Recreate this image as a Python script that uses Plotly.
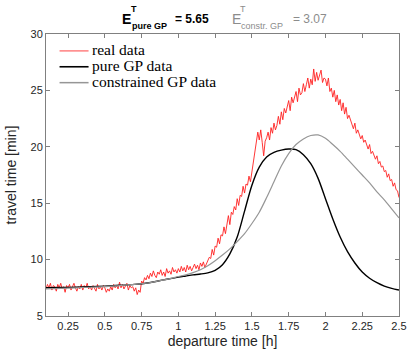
import plotly.graph_objects as go

# ---- data ----
real_x = [round(0.10 + 0.01 * i, 2) for i in range(241)]
real_y = [
    7.4, 7.8, 7.5, 7.9, 7.3, 7.7, 7.6, 7.2, 7.8, 7.5,
    7.9, 7.4, 7.6, 7.1, 7.7, 7.5, 7.8, 7.3, 7.6, 7.9,
    7.5, 7.2, 7.6, 7.4, 7.8, 7.3, 7.7, 7.5, 7.9, 7.4,
    7.6, 7.3, 7.7, 7.5, 7.2, 7.8, 7.4, 7.6, 7.3, 7.7,
    7.5, 7.1, 7.4, 7.2, 7.6, 7.3, 7.8, 7.5, 7.7, 7.4,
    8.0, 7.5, 7.8, 7.4, 7.6, 7.9, 7.3, 7.7, 7.5, 7.6,
    7.2, 7.5, 6.9, 7.3, 7.1, 8.1, 7.9, 8.4, 8.2, 8.6,
    8.3, 8.8, 8.5, 9.0, 8.6, 8.4, 8.9, 8.7, 9.1, 8.6,
    8.9, 8.5, 9.2, 8.8, 9.0, 8.7, 9.3, 8.9, 9.1, 8.8,
    9.2, 8.9, 9.4, 9.0, 9.3, 8.9, 9.5, 9.1, 9.4, 9.0,
    9.3, 9.6, 9.2, 9.5, 9.1, 9.7, 9.4, 9.8, 9.3, 9.6,
    9.8, 10.2, 10.1, 10.9, 10.4, 11.2, 11.1, 11.9, 11.4, 12.2,
    12.1, 12.9, 12.3, 13.2, 13.9, 13.1, 14.2, 14.0, 14.7, 14.4,
    15.4, 14.8, 15.7, 15.6, 16.5, 15.9, 16.7, 16.6, 17.4, 16.9,
    17.8, 18.6, 19.4, 20.3, 21.3, 20.6, 21.5, 20.4, 19.2, 20.5,
    20.8, 21.3, 20.6, 21.7, 21.2, 22.1, 21.5, 21.9, 22.7, 22.0,
    23.1, 22.4, 23.4, 23.0, 23.6, 24.1, 23.2, 24.4, 23.9, 24.3,
    24.9, 24.0, 25.2, 24.6, 24.8, 25.6, 24.9, 25.5, 26.1, 25.2,
    26.0, 25.5, 26.9, 25.8, 26.6, 25.9, 26.4, 26.8, 25.7, 26.1,
    26.0, 25.4, 26.1, 24.9, 25.2, 24.4, 25.0, 24.0, 24.6, 23.7,
    24.2, 23.2, 23.9, 22.9, 23.5, 22.5, 22.8, 22.4, 22.0, 21.6,
    22.1, 21.2, 21.5, 21.1, 20.7, 21.0, 20.4, 20.6, 20.1, 19.8,
    20.2, 19.4, 19.6, 19.3, 18.9, 19.2, 18.5, 18.7, 18.2, 18.3,
    17.8, 17.9, 17.3, 17.6, 17.0, 17.1, 16.5, 16.8, 16.2, 16.1,
    15.5,
]

pure_x = [0.1, 0.2, 0.3, 0.4, 0.5, 0.6, 0.7, 0.8, 0.9, 1.0,
          1.05, 1.1, 1.15, 1.2, 1.25, 1.3, 1.35, 1.4, 1.45, 1.5,
          1.55, 1.6, 1.65, 1.7, 1.75, 1.8, 1.85, 1.9, 1.95, 2.0,
          2.05, 2.1, 2.15, 2.2, 2.25, 2.3, 2.35, 2.4, 2.45, 2.5]
pure_y = [7.5, 7.52, 7.55, 7.6, 7.65, 7.72, 7.8, 7.95, 8.2, 8.45,
          8.55, 8.65, 8.72, 8.82, 9.05, 9.55, 10.5, 12.0, 14.3, 16.6,
          18.2, 19.1, 19.5, 19.7, 19.8, 19.75, 19.3, 18.5, 17.2, 15.4,
          13.6, 12.0, 10.7, 9.7, 8.9, 8.35, 7.95, 7.65, 7.45, 7.3]

constr_x = [0.1, 0.2, 0.3, 0.4, 0.5, 0.6, 0.7, 0.8, 0.9, 1.0,
            1.05, 1.1, 1.15, 1.2, 1.25, 1.3, 1.35, 1.4, 1.45, 1.5,
            1.55, 1.6, 1.65, 1.7, 1.75, 1.8, 1.85, 1.9, 1.95, 2.0,
            2.05, 2.1, 2.15, 2.2, 2.25, 2.3, 2.35, 2.4, 2.45, 2.5]
constr_y = [7.4, 7.45, 7.5, 7.55, 7.6, 7.7, 7.8, 7.95, 8.2, 8.5,
            8.65, 8.85, 9.1, 9.45, 9.9, 10.4, 10.95, 11.6, 12.3, 13.2,
            14.2, 15.5, 16.9, 18.3, 19.4, 20.2, 20.7, 21.0, 21.05, 20.75,
            20.2, 19.6, 18.9, 18.2, 17.5, 16.8, 16.0, 15.3, 14.5, 13.7]

series_names = ["real data", "pure GP data", "constrained GP data"]
series_colors = ["#ff2020", "#000000", "#969696"]
series_widths = [1.0, 1.4, 1.2]

x_ticks = [0.25, 0.5, 0.75, 1, 1.25, 1.5, 1.75, 2, 2.25, 2.5]
x_tick_text = ["0.25", "0.5", "0.75", "1", "1.25", "1.5", "1.75", "2", "2.25", "2.5"]
y_ticks = [5, 10, 15, 20, 25, 30]

# ---- figure ----
W, H = 418, 357
L, R, T, B = 42, 11, 34, 39
pw, ph = W - L - R, H - T - B


def px(xp):
    return (xp - L) / pw


def py(yp):
    return (H - B - yp) / ph


fig = go.Figure()
fig.add_trace(go.Scatter(x=real_x, y=real_y, mode="lines", name=series_names[0],
                         line=dict(color=series_colors[0], width=0.9)))
fig.add_trace(go.Scatter(x=pure_x, y=pure_y, mode="lines", name=series_names[1],
                         line=dict(color=series_colors[1], width=series_widths[1],
                                   shape="spline", smoothing=0.8)))
fig.add_trace(go.Scatter(x=constr_x, y=constr_y, mode="lines", name=series_names[2],
                         line=dict(color=series_colors[2], width=series_widths[2],
                                   shape="spline", smoothing=0.8)))

axis_common = dict(showline=True, linecolor="#808080", linewidth=1, mirror="ticks",
                   ticks="inside", ticklen=4, tickcolor="#808080", showgrid=False,
                   zeroline=False, tickfont=dict(family="Arial", size=11, color="#262626"))

fig.update_xaxes(range=[0.1, 2.5], tickvals=x_ticks, ticktext=x_tick_text,
                 title=dict(text="departure time [h]", font=dict(family="Arial", size=14, color="#262626"),
                            standoff=4),
                 **axis_common)
fig.update_yaxes(range=[5, 30], tickvals=y_ticks,
                 title=dict(text="travel time [min]", font=dict(family="Arial", size=14, color="#262626"),
                            standoff=10),
                 **axis_common)

ann = []
shapes = []


def txt(xp, yp, s, size, color, bold=False, anchor="left", family="Arial"):
    if bold:
        s = "<b>" + s + "</b>"
    ann.append(dict(x=px(xp), y=py(yp), xref="paper", yref="paper", text=s, showarrow=False,
                    xanchor=anchor, yanchor="middle",
                    font=dict(family=family, size=size, color=color)))


# title parts
txt(119, 19, "E", 14, "#000000", bold=True)
txt(128, 9, "T", 9, "#000000", bold=True)
txt(129, 26, "pure GP", 9, "#000000", bold=True)
txt(173, 19, "= 5.65", 12, "#000000", bold=True)
txt(232, 19, "E", 14, "#8c8c8c")
txt(241, 9, "T", 9, "#8c8c8c")
txt(242, 26, "constr. GP", 9, "#8c8c8c")
txt(295, 19, "= 3.07", 12, "#8c8c8c")

# custom legend (no box), matching MATLAB layout
leg_rows = [51, 67, 83]
for name, col, w, yr in zip(series_names, series_colors, series_widths, leg_rows):
    lc = "#ff8080" if col == "#ff2020" else col
    shapes.append(dict(type="line", xref="paper", yref="paper",
                       x0=px(56), x1=px(86), y0=py(yr), y1=py(yr),
                       line=dict(color=lc, width=1.5 if col != "#000000" else 1.6)))
    txt(88, yr - 1, name, 15.5, "#000000", family="'Liberation Serif', 'DejaVu Serif', serif")

fig.update_layout(
    width=W, height=H,
    margin=dict(l=L, r=R, t=T, b=B),
    plot_bgcolor="white", paper_bgcolor="white",
    annotations=ann,
    shapes=shapes,
    showlegend=False,
)

fig.write_html("out.html")
